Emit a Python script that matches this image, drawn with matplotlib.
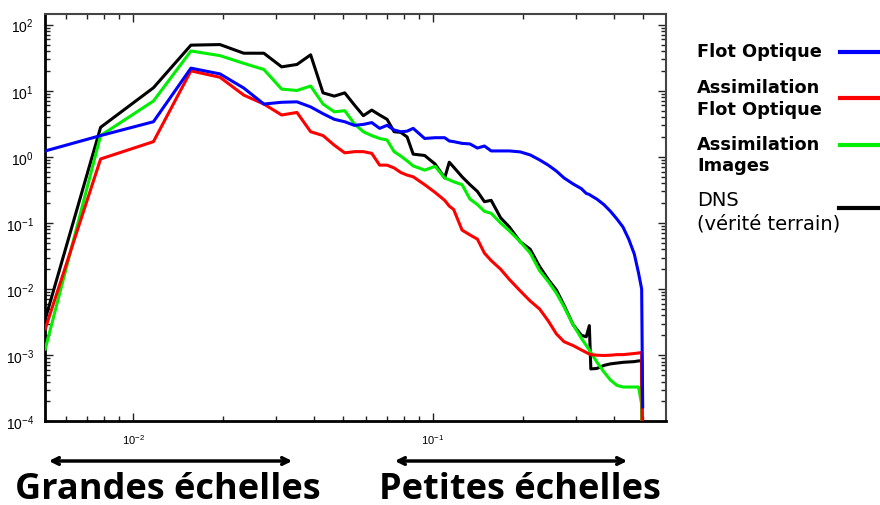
import matplotlib
matplotlib.use("Agg")
import matplotlib.pyplot as plt
from matplotlib.lines import Line2D
from matplotlib.patches import FancyArrowPatch
from matplotlib.ticker import LogLocator

plt.rcParams['font.family'] = ['Liberation Sans', 'DejaVu Sans']
plt.rcParams['mathtext.fontset'] = 'custom'
plt.rcParams['mathtext.rm'] = 'Liberation Sans'

# wavenumber (shared grid, first point = left edge of the axis)
k = [0.0051, 0.0078, 0.0117, 0.0156, 0.0195, 0.0234, 0.0273, 0.0313, 0.0352, 0.0391,
     0.0430, 0.0469, 0.0508, 0.0547, 0.0586, 0.0625, 0.0664, 0.0703, 0.0742, 0.0781,
     0.0820, 0.0859, 0.0938, 0.1016, 0.1094, 0.1133, 0.1172, 0.125, 0.1328, 0.1406,
     0.1484, 0.1563, 0.168, 0.1797, 0.1953, 0.2109, 0.2266, 0.2422, 0.2578, 0.2734,
     0.293, 0.3125, 0.3242, 0.332, 0.3359, 0.3516, 0.3711, 0.3906, 0.4102, 0.4297,
     0.4492, 0.4688, 0.4844, 0.4961, 0.5]

dns = [0.0035, 2.8, 11.1, 49, 50, 37, 37, 23, 25, 35,
       9.3, 8.3, 9.3, 6.1, 4.2, 5.1, 4.3, 3.7, 2.4, 2.35,
       2.0, 1.1, 1.05, 0.78, 0.48, 0.83, 0.70, 0.50, 0.38, 0.30,
       0.21, 0.22, 0.12, 0.087, 0.052, 0.040, 0.022, 0.014, 0.0097, 0.0057,
       0.0029, 0.0020, 0.0019, 0.0028, 0.00062, 0.00063, 0.00070, 0.00074, 0.00076, 0.00078,
       0.00079, 0.00080, 0.00082, 0.00082, 1e-5]

assim_images = [0.00124, 2.1, 7.0, 40, 34, 26, 21, 10.6, 10.1, 11.8,
                6.3, 4.8, 5.0, 3.15, 2.4, 2.1, 1.9, 1.8, 1.2, 1.03,
                0.87, 0.73, 0.63, 0.72, 0.48, 0.45, 0.42, 0.38, 0.23, 0.19,
                0.15, 0.14, 0.10, 0.076, 0.052, 0.035, 0.019, 0.013, 0.0087, 0.0054,
                0.0029, 0.0018, 0.0014, 0.0012, 0.0011, 0.00079, 0.00056, 0.00042, 0.00035, 0.00033,
                0.00033, 0.00033, 0.00033, 0.00018, 1e-5]

assim_flot = [0.0025, 0.93, 1.7, 20, 16, 8.6, 6.3, 4.3, 4.7, 2.4,
              2.1, 1.5, 1.15, 1.2, 1.2, 1.13, 0.75, 0.75, 0.68, 0.58,
              0.53, 0.50, 0.38, 0.29, 0.22, 0.18, 0.16, 0.078, 0.066, 0.057,
              0.035, 0.027, 0.020, 0.014, 0.0094, 0.0066, 0.0050, 0.0033, 0.0021, 0.0016,
              0.0014, 0.0012, 0.0011, 0.00104, 0.00102, 0.0010, 0.00099, 0.0010, 0.00102, 0.00102,
              0.00104, 0.00106, 0.00108, 0.0011, 1e-5]

flot = [1.23, 2.1, 3.4, 22, 18, 11, 6.3, 6.7, 6.8, 5.7,
        4.5, 3.7, 3.4, 3.0, 3.1, 3.3, 2.7, 3.0, 2.55, 2.4,
        2.45, 2.7, 1.9, 1.95, 1.95, 1.74, 1.7, 1.6, 1.57, 1.36,
        1.46, 1.23, 1.23, 1.23, 1.19, 1.07, 0.90, 0.75, 0.61, 0.48,
        0.39, 0.33, 0.28, 0.27, 0.26, 0.23, 0.19, 0.15, 0.115, 0.087,
        0.057, 0.034, 0.0175, 0.010, 0.000165]

legend_lines = [["Flot Optique"], ["Assimilation", "Flot Optique"], ["Assimilation", "Images"]]
dns_lines = ["DNS", "(vérité terrain)"]
scale_labels = ["Grandes échelles", "Petites échelles"]

W, H = 880, 506
fig = plt.figure(figsize=(W / 100, H / 100), dpi=100)


def fx(x):
    return x / W


def fy(y):
    return 1 - y / H


ax = fig.add_axes([fx(45), fy(422.3), (666 - 45) / W, (422.3 - 15) / H])
ax.set_xscale('log')
ax.set_yscale('log')

ax.plot(k, dns, color='black', lw=2.2, zorder=3)
ax.plot(k, assim_images, color='#00ee00', lw=2.2, zorder=4)
ax.plot(k, assim_flot, color='#ff0000', lw=2.2, zorder=5)
ax.plot(k, flot, color='#0000ff', lw=2.2, zorder=6)

ax.set_xlim(0.00509, 0.598)
ax.set_ylim(1e-4, 145)

ax.yaxis.set_major_locator(LogLocator(base=10, numticks=12))
ax.yaxis.set_minor_locator(LogLocator(base=10, subs=range(2, 10), numticks=12))
ax.tick_params(which='both', direction='in', top=True, right=True, width=1, color='#222222')
ax.tick_params(which='major', length=6)
ax.tick_params(which='minor', length=3.5)
ax.tick_params(axis='y', which='major', labelsize=10, pad=8)
ax.tick_params(axis='x', which='major', labelsize=8, pad=8)

for side in ['left', 'bottom']:
    ax.spines[side].set_linewidth(2)
    ax.spines[side].set_color('black')
for side in ['top', 'right']:
    ax.spines[side].set_linewidth(1.5)
    ax.spines[side].set_color('#444444')

# legend (text on the left, line on the right)
legend_colors = ['#0000ff', '#ff0000', '#00ee00']
baselines = [[57], [93, 115], [150, 171.5]]
line_y = [53, 99, 146]
for lines, col, bls, ly in zip(legend_lines, legend_colors, baselines, line_y):
    for txt, by in zip(lines, bls):
        fig.text(fx(697), fy(by), txt, fontsize=12.8, fontweight='bold',
                 family='DejaVu Sans', ha='left', va='baseline')
    fig.add_artist(Line2D([fx(840), fx(880)], [fy(ly), fy(ly)],
                          transform=fig.transFigure, color=col, lw=3))
for txt, by in zip(dns_lines, [206.5, 229.5]):
    fig.text(fx(697), fy(by), txt, fontsize=14, family='DejaVu Sans',
             ha='left', va='baseline')
fig.add_artist(Line2D([fx(839), fx(880)], [fy(209), fy(209)],
                      transform=fig.transFigure, color='black', lw=3))

# scale arrows and labels
arrows = [(46, 295), (392, 630)]
text_x = [168, 520]
for (x0, x1), tx, lab in zip(arrows, text_x, scale_labels):
    fig.add_artist(FancyArrowPatch((fx(x0), fy(462)), (fx(x1), fy(462)),
                                   transform=fig.transFigure, arrowstyle='<->',
                                   mutation_scale=12, lw=2.5, color='black'))
    fig.text(fx(tx), fy(499), lab, fontsize=26, fontweight='bold',
             family=['Open Sans', 'DejaVu Sans'], ha='center', va='baseline')

fig.savefig('out.png', dpi=100)
